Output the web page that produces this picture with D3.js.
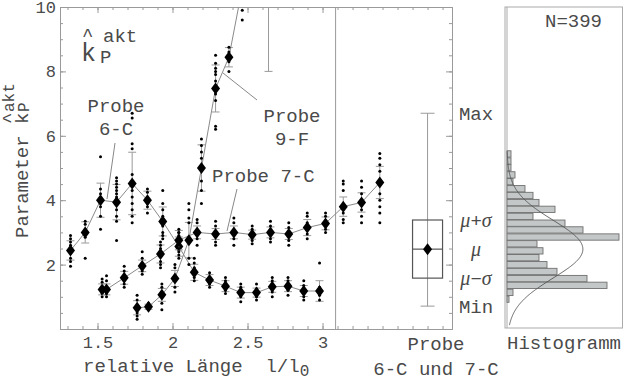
<!DOCTYPE html>
<html><head><meta charset="utf-8">
<script src="https://cdn.jsdelivr.net/npm/d3@7/dist/d3.min.js"></script>
<style>
body{margin:0;background:#fff}
svg text{font-family:"Liberation Mono","Courier New",monospace;fill:#4a4a4a}
</style></head>
<body><svg id="c" width="624" height="380"></svg>
<script>
// ---------- data ----------
const c6x    = [1.32,1.418,1.52,1.627,1.731,1.833,1.935,2.042,2.145,2.247,2.353,2.455,2.56,2.665,2.77,2.875,2.98];
const c6mean = [2.44,3.0,4.0,3.94,4.52,4.0,3.34,2.56,1.76,1.52,1.33,1.13,1.13,1.31,1.33,1.18,1.18];
const c6sd   = [0.3,0.33,0.53,0.55,0.97,0.28,0.45,0.3,0.25,0.17,0.17,0.17,0.14,0.17,0.17,0.17,0.32];
const c6obs  = [[2.9,2.8,2.7,2.6,2.5,2.35,2.2,2.1,1.95],[3.35,3.25,3.1,2.95,2.85,2.2],[5.35,4.35,4.2,3.8,3.5,3.1],
  [4.7,4.6,4.5,4.4,4.3,4.2,4.1,3.7,3.5,3.35,2.75],[6.7,6.55,5.75,5.6,4.8,4.3,4.1,3.9,3.7,3.5,3.3],[4.35,4.25,3.9,3.8,3.6],
  [4.3,3.9,3.7,3.5,3.2,3.0,2.9,2.8],[3.0,2.85,2.7,2.4,2.3,2.2],[2.2,2.05,1.9,1.6,1.5],[1.75,1.6,1.4,1.3],[1.6,1.5,1.2,1.1],
  [1.4,1.3,1.0,0.85],[1.4,1.25,1.0,0.9],[1.6,1.5,1.15,1.0],[1.6,1.5,1.2,1.05],[1.5,1.35,1.0,0.9],[2.05,1.3,1.05,0.9]];

const c7x    = [1.531,1.56,1.678,1.798,1.92,2.042,2.164,2.287,2.409,2.531,2.653,2.775,2.898,3.02,3.138,3.26,3.382];
const c7mean = [1.23,1.23,1.59,1.96,2.33,2.76,3.0,2.95,3.0,2.93,3.0,2.95,3.15,3.28,3.8,3.93,4.55];
const c7sd   = [0.17,0.17,0.2,0.18,0.28,0.3,0.2,0.17,0.2,0.14,0.17,0.17,0.25,0.2,0.3,0.3,0.5];
const c7obs  = [[1.55,1.45,1.3,1.1,1.0],[1.65,1.5,1.1,1.0],[1.95,1.8,1.4,1.3],[2.4,2.2,1.8,1.7],[2.7,2.6,2.5,2.1,2.0,1.9],
  [3.1,3.0,2.9,2.6,2.5],[3.4,3.3,2.8,2.6],[3.35,3.2,2.7,2.6],[3.45,3.3,2.8,2.6],[3.2,3.1,2.75,2.65],[3.35,3.2,2.8,2.7],
  [3.3,3.15,2.75,2.6],[3.6,3.5,3.3,2.95,2.8],[3.6,3.5,3.1,3.0],[4.6,4.5,4.3,3.6,3.4,3.3],[4.6,4.4,4.2,3.7,3.5,3.3],
  [5.45,5.3,5.1,4.9,4.2,4.0,3.8,3.6,3.3]];

const f9x    = [1.764,1.84,1.929,2.016,2.109,2.193,2.287,2.376,2.465,2.64];
const f9mean = [0.66,0.69,1.06,1.57,2.76,5.0,7.47,8.44,10.6,11.6];
const f9sd   = [0.22,0.08,0.2,0.25,0.55,0.72,0.73,0.3,0.5,3.6];
const f9obs  = [[1.05,0.9,0.5,0.4,0.3],[0.8,0.6],[1.4,1.3,0.8,0.6],[2.0,1.9,1.3,1.15],[3.9,3.7,3.45,3.3,2.2,2.0],
  [5.9,5.7,5.5,5.3,4.6,4.3,3.9],[8.5,8.25,8.1,8.0,7.9,7.7,7.3,7.1,6.3,6.2],[8.75,8.6,8.3,8.0],[11.0,10.5,9.9,9.6],[12.0,11.0]];

const boxX = 3.7;
const boxStats = {min:0.71, lo:1.58, mean:2.48, hi:3.385, max:6.7};
const boxLabels = ["Max","μ+σ","μ","μ−σ","Min"];
const sepX = 3.087;

const yTicks = [2,4,6,8,10];
const xTicks = [1.5,2,2.5,3];

const histLo     = [0.81,1.02,1.24,1.45,1.67,1.88,2.10,2.31,2.53,2.74,2.96,3.17,3.38,3.60,3.81,4.03,4.24,4.46,4.67,4.89,5.10,5.32];
const histCounts = [1,3,50,40,25,20,16,18,15,56,38,29,13,24,16,13,9,3,4,2,2,2];
const histBinW = 0.2145;
const histN = 399, histMu = 2.48, histSigma = 0.9;

// ---------- drawing ----------
const svg = d3.select("#c");
const x = d3.scaleLinear().domain([1.25,3.863]).range([60,452]);
const y = d3.scaleLinear().domain([0,10]).range([329,7]);
const grey = "#9a9a9a";

function styleAxis(g){
  g.selectAll("path.domain").attr("stroke",grey);
  g.selectAll(".tick line").attr("stroke",grey);
  g.selectAll("text").attr("fill","#4a4a4a").style("font-size","17px").style("font-family","Liberation Mono, monospace");
}
const minorY = d3.range(0,21).map(d=>d/2);
const minorX = d3.range(13,39).map(d=>d/10);
svg.append("g").attr("transform","translate(60,0)").call(d3.axisLeft(y).tickValues(minorY).tickSize(-3).tickSizeOuter(0).tickFormat("")).call(styleAxis);
svg.append("g").attr("transform","translate(60,0)").call(d3.axisLeft(y).tickValues(yTicks).tickSize(-6).tickSizeOuter(0).tickPadding(4).tickFormat(d3.format("d"))).call(styleAxis);
svg.append("g").attr("transform","translate(452,0)").call(d3.axisRight(y).tickValues(minorY).tickSize(-3).tickSizeOuter(0).tickFormat("")).call(styleAxis);
svg.append("g").attr("transform","translate(452,0)").call(d3.axisRight(y).tickValues(yTicks).tickSize(-6).tickSizeOuter(0).tickFormat("")).call(styleAxis);
svg.append("g").attr("transform","translate(0,329)").call(d3.axisBottom(x).tickValues(minorX).tickSize(-3).tickSizeOuter(0).tickFormat("")).call(styleAxis);
svg.append("g").attr("transform","translate(0,329)").call(d3.axisBottom(x).tickValues(xTicks).tickSize(-6).tickSizeOuter(0).tickPadding(7).tickFormat(d=>String(d))).call(styleAxis);
svg.append("g").attr("transform","translate(0,7)").call(d3.axisTop(x).tickValues(minorX).tickSize(-3).tickSizeOuter(0).tickFormat("")).call(styleAxis);
svg.append("g").attr("transform","translate(0,7)").call(d3.axisTop(x).tickValues(xTicks).tickSize(-6).tickSizeOuter(0).tickFormat("")).call(styleAxis);

// separator
svg.append("line").attr("x1",x(sepX)).attr("x2",x(sepX)).attr("y1",y(10)).attr("y2",y(0)).attr("stroke",grey);

// clip
svg.append("clipPath").attr("id","clip").append("rect").attr("x",60).attr("y",7).attr("width",392).attr("height",322);
const plot = svg.append("g").attr("clip-path","url(#clip)");
const diamond = "M0,-6L4.5,0L0,6L-4.5,0Z";

function series(xs, means, sds, obs){
  const pts = xs.map((v,i)=>({x:v,m:means[i],s:sds[i],o:obs[i]}));
  plot.append("path").datum(pts).attr("fill","none").attr("stroke","#8a8a8a").attr("stroke-width",1)
    .attr("d",d3.line().x(d=>x(d.x)).y(d=>y(d.m)));
  const g = plot.append("g").selectAll("g").data(pts).join("g");
  g.append("line").attr("x1",d=>x(d.x)).attr("x2",d=>x(d.x)).attr("y1",d=>y(d.m+d.s)).attr("y2",d=>y(d.m-d.s)).attr("stroke",grey);
  g.append("line").attr("x1",d=>x(d.x)-4).attr("x2",d=>x(d.x)+4).attr("y1",d=>y(d.m+d.s)).attr("y2",d=>y(d.m+d.s)).attr("stroke",grey);
  g.append("line").attr("x1",d=>x(d.x)-4).attr("x2",d=>x(d.x)+4).attr("y1",d=>y(d.m-d.s)).attr("y2",d=>y(d.m-d.s)).attr("stroke",grey);
  g.each(function(d){
    d3.select(this).selectAll("circle").data(d.o).join("circle").attr("cx",x(d.x)).attr("cy",v=>y(v)).attr("r",1.5).attr("fill","#000");
  });
  g.append("path").attr("d",diamond).attr("transform",d=>`translate(${x(d.x)},${y(d.m)})`).attr("fill","#000");
}
series(c6x,c6mean,c6sd,c6obs);
series(c7x,c7mean,c7sd,c7obs);
series(f9x,f9mean,f9sd,f9obs);

// box summary
const bx = x(boxX), bw = 15;
svg.append("line").attr("x1",bx).attr("x2",bx).attr("y1",y(boxStats.max)).attr("y2",y(boxStats.min)).attr("stroke",grey);
[boxStats.max,boxStats.min].forEach(v=>svg.append("line").attr("x1",bx-7).attr("x2",bx+7).attr("y1",y(v)).attr("y2",y(v)).attr("stroke",grey));
svg.append("rect").attr("x",bx-bw).attr("y",y(boxStats.hi)).attr("width",2*bw).attr("height",y(boxStats.lo)-y(boxStats.hi))
  .attr("fill","none").attr("stroke","#555").attr("stroke-width",1.2);
svg.append("line").attr("x1",bx-bw).attr("x2",bx+bw).attr("y1",y(boxStats.mean)).attr("y2",y(boxStats.mean)).attr("stroke","#555").attr("stroke-width",1.2);
svg.append("path").attr("d",diamond).attr("transform",`translate(${bx},${y(boxStats.mean)})`).attr("fill","#000");

// right labels
const labVals = [boxStats.max,boxStats.hi,boxStats.mean,boxStats.lo,boxStats.min];
labVals.forEach((v,i)=>{
  const t = svg.append("text").attr("x",476).attr("y",y(v)).attr("dy","0.35em").attr("text-anchor","middle").style("font-size","19px");
  const s = boxLabels[i];
  if(s.length===3 && s[0]!=="μ"){ t.text(s); }
  else {
    for(const ch of s){
      const tp = t.append("tspan").text(ch);
      if(ch==="μ"||ch==="σ") tp.style("font-family","Liberation Serif, serif").style("font-style","italic").style("font-size","20px");
    }
  }
});

// histogram
svg.append("rect").attr("x",505).attr("y",7).attr("width",117.5).attr("height",321).attr("fill","none").attr("stroke","#aaa");
const hx = d3.scaleLinear().domain([0,58]).range([507,623]);
svg.append("line").attr("x1",507).attr("x2",507).attr("y1",7).attr("y2",328).attr("stroke","#aaa");
svg.append("g").selectAll("rect").data(histLo.map((lo,i)=>({lo,c:histCounts[i]}))).join("rect")
  .attr("x",hx(0)).attr("y",d=>y(d.lo+histBinW)).attr("width",d=>hx(d.c)-hx(0)).attr("height",d=>y(d.lo)-y(d.lo+histBinW)-0.6)
  .attr("fill","#c3c7c7").attr("stroke","#707070").attr("stroke-width",0.9);
const peak = histN*histBinW/(histSigma*Math.sqrt(2*Math.PI));
const curvePts = d3.range(0.12,5.53,0.02);
svg.append("path").datum(curvePts).attr("fill","none").attr("stroke","#555").attr("stroke-width",0.9)
  .attr("d",d3.line().x(v=>hx(peak*Math.exp(-0.5*((v-histMu)/histSigma)**2))).y(v=>y(v)));
svg.append("text").attr("x",545).attr("y",27).style("font-size","19px").text("N=399");
svg.append("text").attr("x",507).attr("y",349).style("font-size","19px").text("Histogramm");

// annotations
const ann = svg.append("g").style("font-size","19px");
ann.append("text").attr("x",116).attr("y",112).attr("text-anchor","middle").text("Probe");
ann.append("text").attr("x",116).attr("y",135).attr("text-anchor","middle").text("6-C");
ann.append("text").attr("x",212).attr("y",182).text("Probe 7-C");
ann.append("text").attr("x",292).attr("y",122).attr("text-anchor","middle").text("Probe");
ann.append("text").attr("x",292).attr("y",145).attr("text-anchor","middle").text("9-F");
const pl = [[115,143,107,199],[237,189,227,231],[257,100,223,73]];
pl.forEach(p=>svg.append("line").attr("x1",p[0]).attr("y1",p[1]).attr("x2",p[2]).attr("y2",p[3]).attr("stroke","#888"));

// k-hat label in plot
ann.append("text").attr("x",82).attr("y",41).text("^");
ann.append("text").attr("x",81).attr("y",61).style("font-size","25px").text("k");
ann.append("text").attr("x",100).attr("y",63).text("P");
ann.append("text").attr("x",103).attr("y",42).text("akt");

// y-axis title
const yt = svg.append("g").attr("transform","translate(28,238) rotate(-90)").style("font-size","19px");
yt.append("text").attr("x",0).attr("y",0).text("Parameter k");
yt.append("text").attr("x",126).attr("y",1).style("font-size","16px").text("P");
yt.append("text").attr("x",126).attr("y",-14).style("font-size","16px").text("akt");
yt.append("text").attr("x",114).attr("y",-13).text("^");

// x-axis title
const xt = svg.append("text").attr("x",83).attr("y",372).style("font-size","19px").attr("xml:space","preserve").style("white-space","pre");
xt.append("tspan").text("relative Länge  l/l");
xt.append("tspan").attr("dy",4).style("font-size","16px").text("0");

svg.append("text").attr("x",436).attr("y",350).attr("text-anchor","middle").style("font-size","19px").text("Probe");
svg.append("text").attr("x",436).attr("y",375).attr("text-anchor","middle").style("font-size","19px").text("6-C und 7-C");
</script></body></html>
